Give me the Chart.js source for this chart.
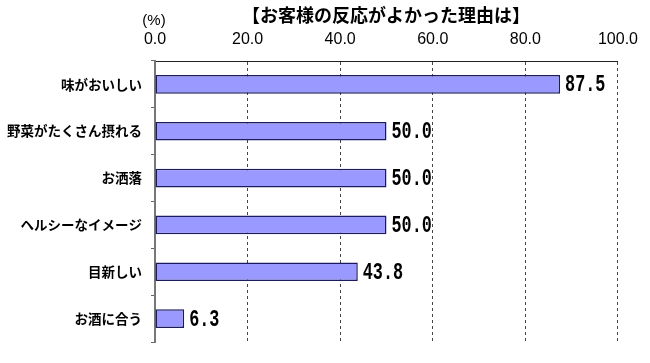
<!DOCTYPE html>
<html>
<head>
<meta charset="utf-8">
<script src="https://cdn.jsdelivr.net/npm/chart.js@4"></script>
<style>
    html, body { margin: 0; padding: 0; background: #fff; }
    #wrap { width: 650px; height: 363px; position: relative; }
</style>
</head>
<body>
<div id="wrap"><canvas id="reasonChart"></canvas></div>
<script>
const chartTitle = '【お客様の反応がよかった理由は】';
const unitLabel = '(%)';
const categories = ['味がおいしい', '野菜がたくさん摂れる', 'お洒落', 'ヘルシーなイメージ', '目新しい', 'お酒に合う'];
const percentValues = [87.5, 50.0, 50.0, 50.0, 43.8, 6.3];
const axisTicks = [0, 20, 40, 60, 80, 100];

/*////////////////////////////// title + value labels //////////////////////////////////*/

const headerPlugin = {
    id: 'header',
    afterDraw(chart) {
        const ctx = chart.ctx;
        ctx.save();
        ctx.fillStyle = '#000';
        ctx.textBaseline = 'middle';
        ctx.textAlign = 'center';
        ctx.font = 'bold 18px "Noto Sans CJK JP"';
        ctx.fillText(chartTitle, 386, 15);
        ctx.font = '15px "Liberation Sans"';
        ctx.fillText(unitLabel, 154, 21);
        ctx.restore();
    }
};

const valueLabelPlugin = {
    id: 'valueLabels',
    afterDatasetsDraw(chart) {
        const ctx = chart.ctx;
        const meta = chart.getDatasetMeta(0);
        ctx.save();
        ctx.fillStyle = '#000';
        ctx.textBaseline = 'middle';
        ctx.textAlign = 'left';
        ctx.font = 'bold 24px "Liberation Mono"';
        meta.data.forEach((bar, i) => {
            ctx.save();
            ctx.translate(bar.x + 5, bar.y + 1);
            ctx.scale(0.7, 1);
            ctx.fillText(percentValues[i].toFixed(1), 0, 0);
            ctx.restore();
        });
        ctx.restore();
    }
};

new Chart(document.getElementById('reasonChart'), {
    type: 'bar',
    data: {
        labels: categories,
        datasets: [{
            data: percentValues,
            backgroundColor: '#9999ff',
            borderColor: '#1c1c5c',
            borderWidth: 1.5,
            borderSkipped: false,
            categoryPercentage: 1,
            barPercentage: 0.4
        }]
    },
    options: {
        indexAxis: 'y',
        responsive: true,
        maintainAspectRatio: false,
        animation: false,
        layout: { padding: { left: 0, right: 31, top: 0, bottom: 21 } },
        plugins: {
            legend: { display: false },
            tooltip: { enabled: false }
        },
        scales: {
            x: {
                position: 'top',
                min: 0,
                max: 100,
                afterBuildTicks: axis => { axis.ticks = axisTicks.map(v => ({ value: v })); },
                afterFit: axis => { axis.height = 61; },
                ticks: {
                    color: '#000',
                    padding: 12,
                    font: { family: '"Liberation Sans"', size: 16 },
                    callback: v => Number(v).toFixed(1)
                },
                grid: {
                    drawTicks: false,
                    color: ctx => ctx.tick && ctx.tick.value === 0 ? 'rgba(0,0,0,0)' : '#444',
                    lineWidth: 1
                },
                border: { display: true, color: '#222', width: 1, dash: [3, 3] }
            },
            y: {
                afterFit: axis => { axis.width = 155; },
                ticks: {
                    color: '#000',
                    padding: 9,
                    font: { family: '"Noto Sans CJK JP"', size: 13.5, weight: 'bold' }
                },
                grid: {
                    offset: true,
                    drawOnChartArea: false,
                    tickLength: 4,
                    color: '#666',
                    lineWidth: 1
                },
                border: { display: true, color: '#777', width: 2 }
            }
        }
    },
    plugins: [headerPlugin, valueLabelPlugin]
});
</script>
</body>
</html>
